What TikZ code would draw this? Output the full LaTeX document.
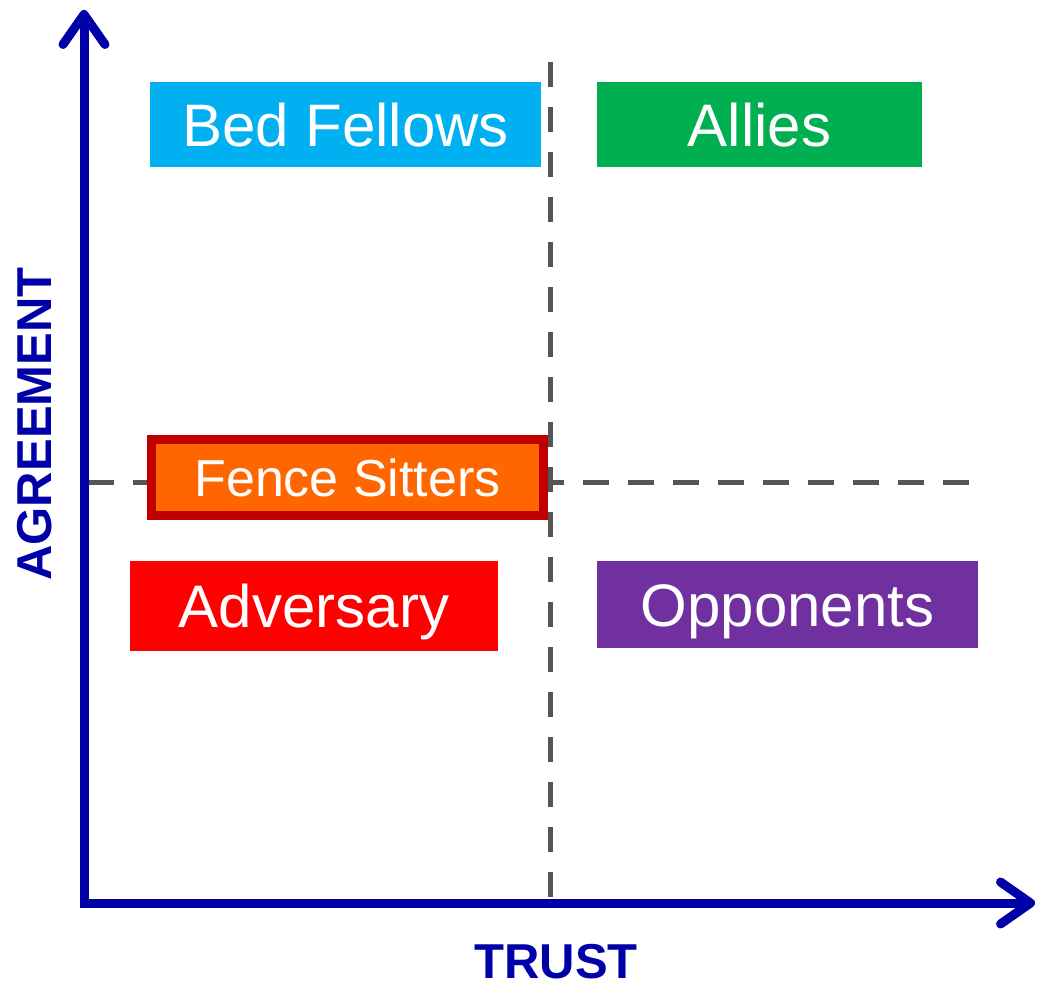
\documentclass[tikz,border=0pt]{standalone}
\usepackage{fontspec}
\setmainfont{Liberation Sans}
\usetikzlibrary{arrows.meta}

\definecolor{axisblue}{RGB}{0,0,168}
\definecolor{guidegray}{RGB}{85,85,85}
\definecolor{bfblue}{RGB}{0,176,240}
\definecolor{allygreen}{RGB}{0,176,80}
\definecolor{fenceorange}{RGB}{255,102,0}
\definecolor{fencered}{RGB}{192,0,0}
\definecolor{advred}{RGB}{255,0,0}
\definecolor{opppurple}{RGB}{112,48,160}

\tikzset{
  axisline/.style={draw=axisblue, line width=9pt, line join=miter,
    {Straight Barb[length=30pt, width=42pt, round]}-{Straight Barb[length=30pt, width=42pt, round]}},
  axislabel/.style={text=axisblue, inner sep=0pt,
    font=\fontsize{49}{59}\selectfont\bfseries},
  guide/.style={draw=guidegray, line width=5pt, dash pattern=on 25pt off 20pt},
  quad/.style={rectangle, inner sep=0pt, text=white,
    font=\fontsize{60}{72}\selectfont, text height=43pt, text depth=0pt},
}

\begin{document}
\begin{tikzpicture}[x=1pt, y=-1pt]
  \useasboundingbox (0,0) rectangle (1038,989);

  % horizontal guide sits behind the boxes
  \coordinate (hl) at (88,482);
  \coordinate (hr) at (977,482);
  \draw[guide, dash pattern=on 26pt off 19pt] (hl) -- (hr);

  % quadrant labels
  \node[quad, fill=bfblue, minimum width=391pt, minimum height=85pt]
    (bed) at (345.5,124.5) {Bed Fellows};
  \node[quad, fill=allygreen, minimum width=325pt, minimum height=85pt]
    (allies) at (759.5,124.5) {Allies};
  \node[quad, fill=fenceorange, draw=fencered, line width=9pt,
    minimum width=392pt, minimum height=76pt,
    font=\fontsize{52}{62}\selectfont, text height=37pt]
    (fence) at (347.5,477.5) {Fence Sitters};
  \node[quad, fill=advred, minimum width=368pt, minimum height=90pt]
    (adv) at (314,605.5) {Adversary};
  \node[quad, fill=opppurple, minimum width=381pt, minimum height=87pt]
    (opp) at (787.5,604.5) {Opponents};

  % vertical guide drawn over the fence-sitters frame
  \coordinate (vt) at (550,62);
  \coordinate (vb) at (550,903);
  \draw[guide] (vt) -- (vb);

  % axes
  \coordinate (ytip) at (84,10);
  \coordinate (origin) at (84,903);
  \coordinate (xtip) at (1035,903);
  \draw[axisline] (ytip) -- (origin) -- (xtip);

  \node[axislabel] (trust) at (556,962) {TRUST};
  \node[axislabel, rotate=90] (agree) at (35,424) {AGREEMENT};
\end{tikzpicture}
\end{document}
